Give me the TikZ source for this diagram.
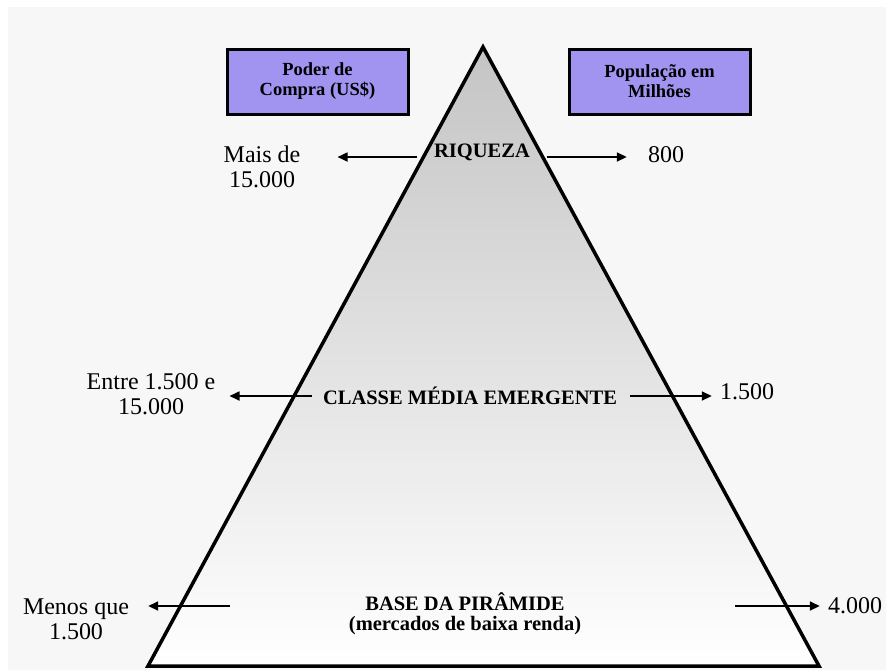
\documentclass[tikz,border=0pt]{standalone}
\usepackage{fontspec}
\setmainfont{Liberation Serif}
\usetikzlibrary{arrows.meta}
\definecolor{bgray}{RGB}{247,247,247}
\definecolor{boxpurple}{RGB}{160,148,240}
\tikzstyle{header} = [rectangle, minimum width=181pt, minimum height=65pt, text centered, align=center, draw=black, line width=3pt, fill=boxpurple, font=\fontsize{18.5}{20}\selectfont\bfseries]
\tikzstyle{level} = [inner sep=0pt, text centered, align=center, font=\fontsize{20.5}{20.5}\selectfont\bfseries]
\tikzstyle{value} = [inner sep=0pt, text centered, align=center, font=\fontsize{24}{25}\selectfont]
\tikzstyle{arrow} = [line width=1.7pt,->,>={Triangle[length=10pt,width=9pt]}]

\begin{document}
\begin{tikzpicture}[x=1pt, y=-1pt]

\useasboundingbox (0,0) rectangle (886,670);
\fill [bgray] (8,7) rectangle (886,670);

% pyramid
\coordinate (apex) at (483,47);
\coordinate (baseL) at (148,666);
\coordinate (baseR) at (819,666);
\shade [top color=black!23, middle color=black!7, bottom color=white] (apex) -- (baseL) -- (baseR) -- cycle;
\draw [line width=3.5pt, line join=miter] (apex) -- (baseL) -- (baseR) -- cycle;

% headers
\node (compra) [header] at (317.5,81.5) {Poder de\\Compra (US\$)};
\node (populacao) [header] at (659.5,81.5) {População em\\Milhões};

% levels
\node (riqueza) [level] at (482,152) {RIQUEZA};
\node (classe) [level] at (470,396) {CLASSE MÉDIA EMERGENTE};
\node (base) [level] at (465,614) {BASE DA PIRÂMIDE\\(mercados de baixa renda)};

% values
\node (maisde) [value] at (262,167) {Mais de\\15.000};
\node (oitocentos) [value] at (666,155) {800};
\node (entre) [value] at (151,394) {Entre 1.500 e\\15.000};
\node (milquinhentos) [value] at (747,392) {1.500};
\node (menos) [value] at (76,619) {Menos que\\1.500};
\node (quatromil) [value] at (855,606) {4.000};

\draw [arrow, shorten <=17pt, shorten >=37pt] ([yshift=-5pt]riqueza.west) -- ([yshift=-5pt]riqueza.west -| maisde.east);
\draw [arrow, shorten <=17pt, shorten >=21pt] ([yshift=-5pt]riqueza.east) -- ([yshift=-5pt]riqueza.east -| oitocentos.west);
\draw [arrow, shorten <=11pt, shorten >=14pt] (classe.west) -- (classe.west -| entre.east);
\draw [arrow, shorten <=13pt, shorten >=8pt] (classe.east) -- (classe.east -| milquinhentos.west);
\draw [arrow, shorten <=119pt, shorten >=19pt] ([yshift=8pt]base.west) -- ([yshift=8pt]base.west -| menos.east);
\draw [arrow, shorten <=154pt, shorten >=8pt] ([yshift=8pt]base.east) -- ([yshift=8pt]base.east -| quatromil.west);

\end{tikzpicture}
\end{document}
